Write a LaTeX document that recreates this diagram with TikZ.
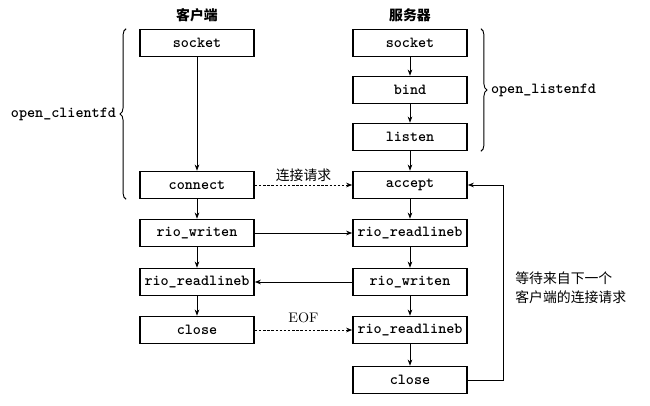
\documentclass[tikz,border=0pt]{standalone}
\usepackage{fontspec}
\newfontfamily\cjk{Noto Sans CJK SC}
\usetikzlibrary{arrows.meta,decorations.pathreplacing}

\tikzset{
    callbox/.style={draw, line width=1.1pt, minimum width=74pt, minimum height=17.5pt, inner sep=0pt, font=\ttfamily\bfseries},
    flow/.style={-{Stealth[length=4pt,width=3pt]}, line width=0.5pt},
    msg/.style={flow, dash pattern=on 1.6pt off 1.1pt},
    grouping/.style={decorate, decoration={brace, amplitude=4pt}, line width=0.6pt},
    cjklabel/.style={font=\cjk\small, inner sep=2pt}
}

\begin{document}
\begin{tikzpicture}[x=0.65pt, y=-0.65pt]
    \useasboundingbox (0,0) rectangle (650,406);

    \node[cjklabel, font=\cjk\small\bfseries] (cTitle) at (197,15) {客户端};
    \node[cjklabel, font=\cjk\small\bfseries] (sTitle) at (410,15) {服务器};

    % client side
    \node[callbox] (cSocket) at (197,43) {socket};
    \node[callbox] (cConnect) at (197,185) {connect};
    \node[callbox] (cWrite) at (197,233) {rio\_writen};
    \node[callbox] (cRead) at (197,282) {rio\_readlineb};
    \node[callbox] (cClose) at (197,330) {close};

    % server side
    \node[callbox] (sSocket) at (410,43) {socket};
    \node[callbox] (sBind) at (410,90) {bind};
    \node[callbox] (sListen) at (410,137) {listen};
    \node[callbox] (sAccept) at (410,185) {accept};
    \node[callbox] (sRead) at (410,233) {rio\_readlineb};
    \node[callbox] (sWrite) at (410,282) {rio\_writen};
    \node[callbox] (sReadEof) at (410,330) {rio\_readlineb};
    \node[callbox] (sClose) at (410,380) {close};

    \draw[flow] (cSocket) -- (cConnect);
    \draw[flow] (cConnect) -- (cWrite);
    \draw[flow] (cWrite) -- (cRead);
    \draw[flow] (cRead) -- (cClose);

    \draw[flow] (sSocket) -- (sBind);
    \draw[flow] (sBind) -- (sListen);
    \draw[flow] (sListen) -- (sAccept);
    \draw[flow] (sAccept) -- (sRead);
    \draw[flow] (sRead) -- (sWrite);
    \draw[flow] (sWrite) -- (sReadEof);
    \draw[flow] (sReadEof) -- (sClose);

    % messages between the two sides
    \draw[msg] (cConnect) -- node[cjklabel, above] (reqLabel) {连接请求} (sAccept);
    \draw[flow] (cWrite) -- (sRead);
    \draw[flow] (sWrite) -- (cRead);
    \draw[msg] (cClose) -- node[font=\small, above=1pt] (eofLabel) {EOF} (sReadEof);

    % back to accept
    \draw[flow] (sClose.east) -- ++(36,0) |- (sAccept.east);
    \node[cjklabel, anchor=west, align=left] (waitNote) at (512,288) {等待来自下一个\\[1.5pt]客户端的连接请求};

    % helper groups
    \draw[grouping] ([xshift=-8.5pt]cConnect.south west) -- ([xshift=-8.5pt]cSocket.north west)
        node[midway, left=3pt, font=\ttfamily\bfseries] (openClient) {open\_clientfd};
    \draw[grouping] ([xshift=8.5pt]sSocket.north east) -- ([xshift=8.5pt]sListen.south east)
        node[midway, right=3pt, font=\ttfamily\bfseries] (openListen) {open\_listenfd};
\end{tikzpicture}
\end{document}
